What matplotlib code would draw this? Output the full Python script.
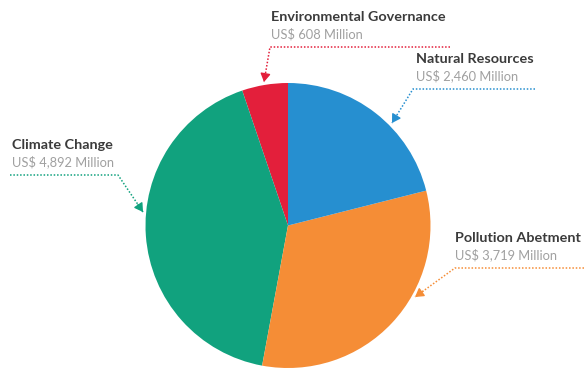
import matplotlib.pyplot as plt

# values in US$ million, ordered counterclockwise from the top
labels = ['Environmental Governance', 'Climate Change', 'Pollution Abetment', 'Natural Resources']
values = [608, 4892, 3719, 2460]
colors = ['#e31f3b', '#11a27e', '#f58d36', '#268fd0']

W, H = 584, 370
fig = plt.figure(figsize=(W / 100, H / 100), dpi=100)
ax = fig.add_axes([0, 0, 1, 1])

cx, cy, r = 288, 225.5, 142.5
ax.pie(values, colors=colors, startangle=90, counterclock=True,
       center=(cx, -cy), radius=r, frame=True,
       wedgeprops=dict(linewidth=0))
ax.set_xlim(0, W)
ax.set_ylim(-H, 0)
ax.set_aspect('equal')
ax.axis('off')

# label text position and leader path (pixel coords, y down)
notes = {
    'Environmental Governance': dict(txt=(271, 17), path=[(450, 47), (270, 47), (264, 82)]),
    'Natural Resources': dict(txt=(416, 59), path=[(535, 89), (413, 89), (392, 123)]),
    'Climate Change': dict(txt=(12, 145), path=[(10, 175), (118, 175), (143, 212)]),
    'Pollution Abetment': dict(txt=(455, 238), path=[(584, 268), (455, 268), (415, 297)]),
}

font = ['Lato', 'DejaVu Sans']
for lab, val, col in zip(labels, values, colors):
    n = notes[lab]
    tx, ty = n['txt']
    ax.text(tx, -ty, lab, fontsize=10.4, fontweight='bold', color='#3b3b3b',
            family=font, va='center', ha='left')
    ax.text(tx, -(ty + 17), f'US$ {val:,} Million', fontsize=9.3, color='#a0a0a0',
            family=font, va='center', ha='left')
    xs = [p[0] for p in n['path']]
    ys = [-p[1] for p in n['path']]
    ax.plot(xs, ys, color=col, linestyle=(0, (1, 1.2)), linewidth=1.1)
    (x0, y0), (x1, y1) = n['path'][-2], n['path'][-1]
    f = 0.8
    ax.annotate('', xy=(x1, -y1), xytext=(x0 + (x1 - x0) * f, -(y0 + (y1 - y0) * f)),
                arrowprops=dict(arrowstyle='-|>,head_length=0.5,head_width=0.3',
                                color=col, lw=1, shrinkA=0, shrinkB=0))

fig.savefig('out.png', dpi=100)
